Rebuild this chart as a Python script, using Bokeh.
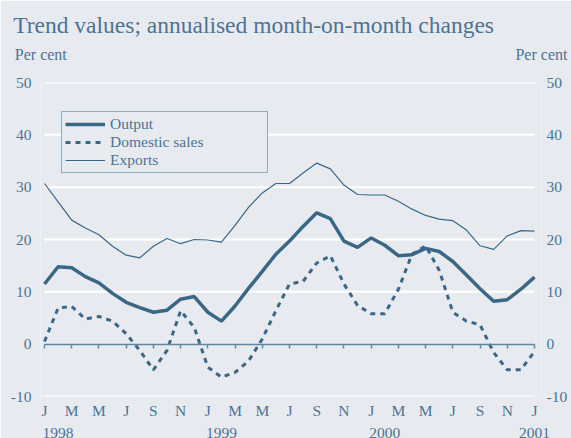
from bokeh.plotting import figure
from bokeh.models import (Range1d, FixedTicker, LinearAxis, Legend, LegendItem,
                          Title)
from bokeh.embed import file_html
from bokeh.resources import INLINE

# ---- data (Jan 1998 .. Jan 2001, monthly) ----
months = list(range(37))
output = [11.5, 14.8, 14.6, 12.9, 11.7, 9.7, 8.0, 7.0, 6.1, 6.5, 8.6, 9.1,
          6.1, 4.4, 7.3, 10.7, 13.9, 17.2, 19.7, 22.5, 25.1, 24.0, 19.7, 18.5,
          20.3, 18.9, 16.9, 17.1, 18.3, 17.7, 15.8, 13.2, 10.6, 8.2, 8.5, 10.5,
          12.8]
domestic = [0.5, 6.9, 7.2, 4.8, 5.3, 4.4, 2.0, -1.2, -4.9, -1.2, 6.4, 3.2,
            -4.4, -6.3, -5.4, -3.2, 1.0, 6.4, 11.5, 12.0, 15.5, 16.9, 11.5, 7.4,
            5.8, 5.8, 10.5, 17.2, 18.8, 14.1, 6.1, 4.4, 3.7, -1.6, -4.9, -4.9,
            -1.4]
exports = [30.7, 27.2, 23.7, 22.2, 20.9, 18.7, 17.0, 16.5, 18.7, 20.2, 19.2, 20.0,
           19.9, 19.5, 22.7, 26.2, 28.9, 30.7, 30.7, 32.7, 34.6, 33.5, 30.4, 28.6,
           28.5, 28.5, 27.3, 25.8, 24.6, 23.9, 23.6, 21.8, 18.8, 18.1, 20.7, 21.7,
           21.6]
month_ticks = list(range(0, 37, 2))
month_letters = ["J", "M", "M", "J", "S", "N"] * 3 + ["J"]
year_positions = [1, 13, 25, 36]
year_labels = ["1998", "1999", "2000", "2001"]
y_ticks = [-10, 0, 10, 20, 30, 40, 50]
y_labels = ["-10", "0", "10", "20", "30", "40", "50"]
grid_ticks = [-10, 10, 20, 30, 40, 50]
subtitle = "Trend values; annualised month-on-month changes"
unit_label = "Per cent"
unit_positions = [-0.272, 36.51]

BG = "#e7ebf0"
LINE = "#3b6787"
TEXT = "#4c7394"
ZERO = "#6285a2"
FONT = "Liberation Serif"

p = figure(frame_width=501, frame_height=314, output_backend="svg",
           toolbar_location=None,
           x_range=Range1d(-0.294, 36.514), y_range=Range1d(-10, 50),
           min_border_left=40, min_border_right=30, min_border_top=82,
           min_border_bottom=30, background_fill_color=BG, border_fill_color=BG,
           outline_line_color=None, x_axis_location=None, y_axis_location=None)
for g in p.grid:
    g.visible = False

# horizontal white grid lines spanning the data period
p.segment(x0=[months[0]] * len(grid_ticks), x1=[months[-1]] * len(grid_ticks),
          y0=grid_ticks, y1=grid_ticks, line_color="white", line_width=2)

def base_axis(ticks, standoff, size="15.5px", **kw):
    return LinearAxis(ticker=FixedTicker(ticks=ticks),
                      axis_line_color=None, major_tick_line_color=None,
                      minor_tick_line_color=None, major_tick_in=0, major_tick_out=0,
                      major_label_standoff=standoff, major_label_text_font=FONT,
                      major_label_text_font_size=size,
                      major_label_text_color=TEXT, axis_label_standoff=0, **kw)

y_over = {t: l for t, l in zip(y_ticks, y_labels)}
p.add_layout(base_axis(y_ticks, 9, major_label_overrides=y_over), "left")
p.add_layout(base_axis(y_ticks, 5, major_label_overrides=y_over), "right")

p.add_layout(base_axis(month_ticks, 5,
                       major_label_overrides={t: l for t, l in zip(month_ticks, month_letters)}),
             "below")
p.add_layout(base_axis(year_positions, 6,
                       major_label_overrides={t: l for t, l in zip(year_positions, year_labels)}),
             "below")

zero_axis = LinearAxis(fixed_location=0, ticker=FixedTicker(ticks=month_ticks),
                       bounds=(months[0], months[-1]),
                       axis_line_color=ZERO, axis_line_width=1.5,
                       major_tick_in=0, major_tick_out=4,
                       major_tick_line_color=ZERO, major_tick_line_width=1.5,
                       minor_tick_line_color=None,
                       major_label_text_font_size="0px", major_label_text_alpha=0)
p.add_layout(zero_axis, "below")

# "Per cent" unit labels above both value axes
p.add_layout(base_axis(unit_positions, 20, size="16px",
                       major_label_overrides={t: unit_label for t in unit_positions}),
             "above")

p.add_layout(Title(text=subtitle, align="left", offset=-27.3, standoff=9,
                   text_font=FONT, text_font_size="23.5px", text_color=TEXT,
                   text_font_style="normal"), "above")

r_exp = p.line(months, exports, line_color=LINE, line_width=1.2)
r_dom = p.line(months, domestic, line_color=LINE, line_width=3, line_dash="5 5")
r_out = p.line(months, output, line_color=LINE, line_width=3.5)

legend = Legend(items=[LegendItem(label="Output", renderers=[r_out]),
                       LegendItem(label="Domestic sales", renderers=[r_dom]),
                       LegendItem(label="Exports", renderers=[r_exp])],
                location=(21, 223), padding=3, spacing=0, label_height=18,
                glyph_height=18, glyph_width=40, label_standoff=5, label_width=154,
                border_line_color=LINE, border_line_width=1.2,
                background_fill_color=BG, background_fill_alpha=1,
                label_text_font=FONT, label_text_font_size="15.5px",
                label_text_color=TEXT)
p.add_layout(legend)

open("out.html", "w").write(file_html(p, INLINE))
